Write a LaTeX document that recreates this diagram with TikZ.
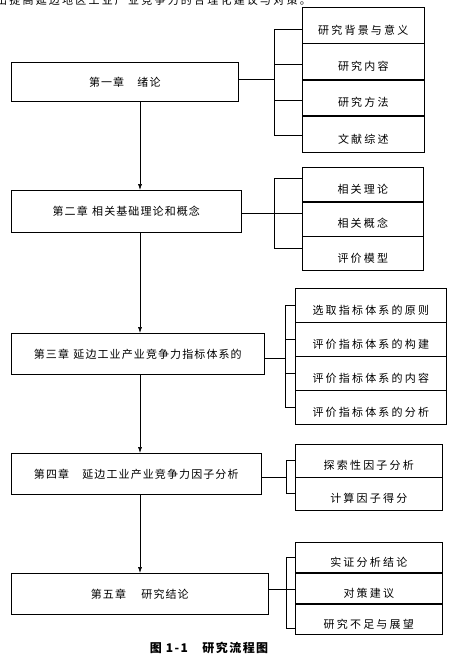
\documentclass[tikz,border=0pt]{standalone}
\usepackage{fontspec}
\newfontfamily\cjkch[LetterSpace=10]{Noto Sans CJK SC}
\newfontfamily\cjkcell[LetterSpace=20]{Noto Sans CJK SC}
\newfontfamily\cjkcap[LetterSpace=12]{Noto Sans CJK SC}
\usetikzlibrary{arrows.meta,positioning}
\tikzset{
  chbox/.style={draw,line width=0.6pt,inner sep=0pt,anchor=north west,font=\cjkch\fontsize{11}{13}\selectfont},
  subcell/.style={draw,line width=0.6pt,inner sep=0pt,text height=18pt,text depth=0pt,font=\cjkcell\fontsize{11}{13}\selectfont},
  chflow/.style={-{Latex[length=6pt,width=4pt]},line width=0.6pt},
  chlink/.style={line width=0.6pt},
}

\begin{document}
\begin{tikzpicture}[x=1pt,y=-1pt]
\useasboundingbox (0,0) rectangle (463,670);
\node[anchor=base west,inner sep=0pt,font=\cjkcell\fontsize{11}{13}\selectfont] (toptext) at (-4,4) {出提高延边地区工业产业竞争力的合理化建议与对策。};
% chapters
\node[chbox,minimum width=227pt,minimum height=39pt] (ch1) at (11,62) {第一章\hspace{1.2em}绪论};
\node[chbox,minimum width=230pt,minimum height=42pt] (ch2) at (11,190) {第二章\hspace{0.4em}相关基础理论和概念};
\node[chbox,minimum width=253pt,minimum height=41pt] (ch3) at (11,333) {第三章\hspace{0.4em}延边工业产业竞争力指标体系的};
\node[chbox,minimum width=250pt,minimum height=41pt] (ch4) at (11,453) {第四章\hspace{1.2em}延边工业产业竞争力因子分析};
\node[chbox,minimum width=257pt,minimum height=41pt] (ch5) at (11,573) {第五章\hspace{1.4em}研究结论};
\coordinate (spine) at (140,0);
\foreach \a/\b in {ch1/ch2,ch2/ch3,ch3/ch4,ch4/ch5}
  \draw[chflow] (\a.south -| spine) -- (\b.north -| spine);
% group 1
\node[subcell,minimum width=122pt,minimum height=35.75pt,anchor=north west] (r11) at (302,7) {研究背景与意义};
\node[subcell,minimum width=122pt,minimum height=35.75pt,below=0pt of r11] (r12) {研究内容};
\node[subcell,minimum width=122pt,minimum height=35.75pt,below=0pt of r12] (r13) {研究方法};
\node[subcell,minimum width=122pt,minimum height=35.75pt,below=0pt of r13] (r14) {文献综述};
\coordinate (b1) at (274,0);
\draw[chlink] ([yshift=-4pt]r11.west) -| ([yshift=-1pt]r14.west -| b1) -- ([yshift=-1pt]r14.west);
\draw[chlink] ([yshift=-3pt]r12.west) -- ([yshift=-3pt]r12.west -| b1);
\draw[chlink] ([yshift=-2pt]r13.west) -- ([yshift=-2pt]r13.west -| b1);
\draw[chlink] ([yshift=3pt]ch1.east) -- ([yshift=3pt]ch1.east -| b1);
% group 2
\node[subcell,minimum width=121pt,minimum height=34pt,anchor=north west] (r21) at (302,167) {相关理论};
\node[subcell,minimum width=121pt,minimum height=34pt,below=0pt of r21] (r22) {相关概念};
\node[subcell,minimum width=121pt,minimum height=34pt,below=0pt of r22] (r23) {评价模型};
\coordinate (b2) at (274,0);
\draw[chlink] ([yshift=6pt]r21.west) -| ([yshift=5pt]r23.west -| b2) -- ([yshift=5pt]r23.west);
\draw[chlink] ([yshift=-2pt]ch2.east) -- ([yshift=-2pt]ch2.east -| r22.west);
% group 3
\node[subcell,minimum width=151pt,minimum height=33.5pt,anchor=north west] (r31) at (295,288) {选取指标体系的原则};
\node[subcell,minimum width=151pt,minimum height=33.5pt,below=0pt of r31] (r32) {评价指标体系的构建};
\node[subcell,minimum width=151pt,minimum height=33.5pt,below=0pt of r32] (r33) {评价指标体系的内容};
\node[subcell,minimum width=151pt,minimum height=33.5pt,below=0pt of r33] (r34) {评价指标体系的分析};
\coordinate (b3) at (285,0);
\draw[chlink] (r31.west) -| (r34.west -| b3) -- (r34.west);
\draw[chlink] (r32.west) -- (r32.west -| b3);
\draw[chlink] (r33.west) -- (r33.west -| b3);
\draw[chlink] ([yshift=-4pt]ch3.east) -- ([yshift=-4pt]ch3.east -| b3);
% group 4
\node[subcell,minimum width=147pt,minimum height=32.5pt,anchor=north west] (r41) at (295,444) {探索性因子分析};
\node[subcell,minimum width=147pt,minimum height=32.5pt,below=0pt of r41] (r42) {计算因子得分};
\coordinate (b4) at (286,0);
\draw[chlink] (r41.west) -| (r42.west -| b4) -- (r42.west);
\draw[chlink] ([yshift=-3pt]ch4.east) -- ([yshift=-3pt]ch4.east -| b4);
% group 5
\node[subcell,minimum width=147pt,minimum height=30.33pt,anchor=north west] (r51) at (295,542) {实证分析结论};
\node[subcell,minimum width=147pt,minimum height=30.33pt,below=0pt of r51] (r52) {对策建议};
\node[subcell,minimum width=147pt,minimum height=30.33pt,below=0pt of r52] (r53) {研究不足与展望};
\coordinate (b5) at (286,0);
\draw[chlink] (r51.west) -| ([yshift=-9pt]r53.west -| b5) -- ([yshift=-9pt]r53.west);
\draw[chlink] ([yshift=5pt]ch5.east) -- ([yshift=5pt]ch5.east -| r52.west);
% caption
\node[font=\cjkcap\bfseries\fontsize{12}{14}\selectfont] (cap) at (209,648) {图 1-1\hspace{1.2em}研究流程图};
\end{tikzpicture}
\end{document}
